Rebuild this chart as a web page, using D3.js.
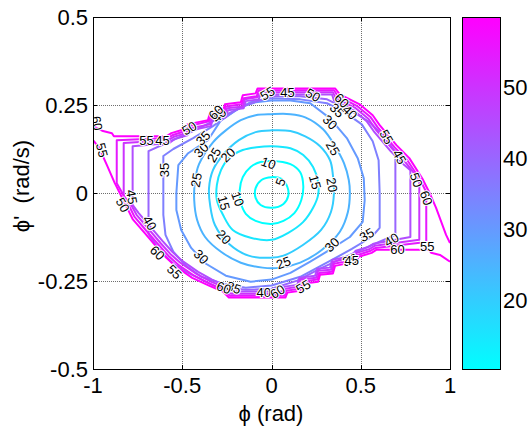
<!DOCTYPE html>
<html><head><meta charset="utf-8">
<script src="https://cdn.jsdelivr.net/npm/d3@7"></script>
<style>
body{margin:0;background:#fff;}
text{font-family:"Liberation Sans",Arial,sans-serif;}
</style>
</head><body>
<svg id="chart" width="529" height="428"></svg>
<script>
// ---------- data ----------
const xTicks = [-1, -0.5, 0, 0.5, 1];
const xTickLabels = ["-1", "-0.5", "0", "0.5", "1"];
const yTicks = [-0.5, -0.25, 0, 0.25, 0.5];
const yTickLabels = ["-0.5", "-0.25", "0", "0.25", "0.5"];
const cbTicks = [20, 30, 40, 50];
const cbTickLabels = ["20", "30", "40", "50"];
const cbRange = [10.3, 59.9];

const c5 = [[0,0.045],[0.056,0.040],[0.089,0.017],[0.094,-0.008],[0.067,-0.031],[0,-0.042],[-0.061,-0.034],[-0.089,-0.014],[-0.089,0.014],[-0.056,0.037]];
const c10 = [[0,0.091],[0.106,0.082],[0.161,0.059],[0.178,0.020],[0.167,-0.020],[0.128,-0.057],[0.067,-0.079],[0,-0.088],[-0.089,-0.079],[-0.144,-0.059],[-0.172,-0.028],[-0.178,0.008],[-0.161,0.045],[-0.117,0.074],[-0.061,0.088]];
const c15 = [[0,0.133],[0.106,0.127],[0.178,0.108],[0.233,0.074],[0.261,0.031],[0.261,-0.006],[0.233,-0.042],[0.178,-0.082],[0.094,-0.113],[0,-0.133],[-0.117,-0.127],[-0.217,-0.105],[-0.272,-0.062],[-0.306,-0.020],[-0.306,0.023],[-0.283,0.065],[-0.239,0.099],[-0.161,0.122],[-0.083,0.130]];
const c20 = [[0,0.178],[0.106,0.176],[0.189,0.161],[0.272,0.133],[0.328,0.093],[0.344,0.051],[0.350,0],[0.333,-0.054],[0.278,-0.105],[0.178,-0.147],[0.067,-0.178],[-0.006,-0.184],[-0.128,-0.178],[-0.239,-0.144],[-0.317,-0.091],[-0.344,-0.034],[-0.350,0.014],[-0.328,0.065],[-0.272,0.108],[-0.183,0.150],[-0.089,0.173]];
const c25 = [[0,0.224],[0.106,0.224],[0.189,0.215],[0.289,0.181],[0.356,0.133],[0.406,0.085],[0.433,0.037],[0.439,0],[0.428,-0.054],[0.383,-0.110],[0.283,-0.161],[0.161,-0.198],[0.050,-0.212],[-0.050,-0.212],[-0.172,-0.198],[-0.283,-0.167],[-0.372,-0.125],[-0.417,-0.076],[-0.433,-0.020],[-0.428,0.037],[-0.406,0.082],[-0.328,0.144],[-0.256,0.178],[-0.172,0.207],[-0.089,0.221]];
const c30 = [[0,0.263],[0.106,0.263],[0.217,0.255],[0.328,0.212],[0.422,0.156],[0.483,0.099],[0.517,0.042],[0.522,-0.020],[0.511,-0.082],[0.439,-0.125],[0.328,-0.161],[0.217,-0.195],[0.106,-0.227],[0,-0.246],[-0.117,-0.252],[-0.256,-0.235],[-0.367,-0.201],[-0.450,-0.156],[-0.506,-0.105],[-0.533,-0.048],[-0.533,0],[-0.522,0.079],[-0.467,0.113],[-0.356,0.150],[-0.283,0.207],[-0.172,0.244],[-0.089,0.258]];
const c35 = [[0,0.269],[0.161,0.266],[0.311,0.255],[0.411,0.229],[0.506,0.195],[0.567,0.147],[0.600,0.093],[0.606,0],[0.606,-0.099],[0.561,-0.125],[0.450,-0.159],[0.328,-0.193],[0.161,-0.238],[0,-0.263],[-0.144,-0.269],[-0.272,-0.258],[-0.394,-0.238],[-0.478,-0.207],[-0.550,-0.167],[-0.594,-0.119],[-0.606,-0.062],[-0.606,0],[-0.606,0.105],[-0.550,0.125],[-0.439,0.156],[-0.328,0.190],[-0.200,0.235],[-0.117,0.258]];
const c40 = [[0,0.275],[0.161,0.275],[0.311,0.266],[0.400,0.244],[0.478,0.224],[0.550,0.201],[0.633,0.159],[0.694,0.116],[0.694,-0.119],[0.589,-0.142],[0.439,-0.176],[0.272,-0.215],[0.144,-0.249],[0,-0.272],[-0.144,-0.275],[-0.311,-0.266],[-0.400,-0.244],[-0.478,-0.224],[-0.550,-0.201],[-0.633,-0.159],[-0.689,-0.116],[-0.689,0.119],[-0.589,0.142],[-0.439,0.176],[-0.272,0.218],[-0.144,0.249]];
const c45 = [[-0.778,0.133],[-0.572,0.142],[-0.544,0.153],[-0.472,0.164],[-0.450,0.178],[-0.339,0.190],[-0.328,0.212],[-0.256,0.215],[-0.244,0.235],[-0.156,0.241],[-0.144,0.261],[-0.072,0.266],[-0.061,0.280],[0.339,0.280],[0.350,0.263],[0.461,0.235],[0.533,0.204],[0.572,0.176],[0.667,0.119],[0.739,0.082],[0.778,0.065],[0.778,-0.125],[0.572,-0.144],[0.544,-0.153],[0.472,-0.164],[0.450,-0.178],[0.339,-0.190],[0.328,-0.212],[0.256,-0.215],[0.244,-0.235],[0.156,-0.241],[0.144,-0.261],[0.072,-0.266],[0.061,-0.280],[-0.222,-0.280],[-0.256,-0.263],[-0.333,-0.246],[-0.411,-0.224],[-0.500,-0.193],[-0.556,-0.167],[-0.611,-0.136],[-0.678,-0.096],[-0.744,-0.057],[-0.778,-0.034]];
const c50 = [[-0.828,0.142],[-0.578,0.150],[-0.550,0.159],[-0.478,0.170],[-0.456,0.184],[-0.344,0.195],[-0.333,0.218],[-0.261,0.221],[-0.250,0.241],[-0.161,0.246],[-0.150,0.266],[-0.078,0.272],[-0.067,0.286],[0.344,0.286],[0.361,0.269],[0.472,0.241],[0.544,0.210],[0.583,0.181],[0.678,0.125],[0.750,0.088],[0.828,0.037],[0.828,-0.133],[0.578,-0.150],[0.550,-0.159],[0.478,-0.170],[0.456,-0.184],[0.344,-0.195],[0.333,-0.218],[0.261,-0.221],[0.250,-0.241],[0.161,-0.246],[0.150,-0.266],[0.078,-0.272],[0.067,-0.286],[-0.228,-0.286],[-0.261,-0.269],[-0.339,-0.252],[-0.422,-0.229],[-0.511,-0.198],[-0.567,-0.173],[-0.622,-0.142],[-0.689,-0.102],[-0.756,-0.062],[-0.789,-0.031],[-0.828,-0.008]];
const c55 = [[-0.867,0.150],[-0.583,0.156],[-0.556,0.164],[-0.483,0.176],[-0.461,0.190],[-0.350,0.204],[-0.339,0.224],[-0.267,0.227],[-0.256,0.246],[-0.167,0.252],[-0.156,0.269],[-0.083,0.275],[-0.072,0.292],[0.350,0.292],[0.372,0.275],[0.483,0.246],[0.556,0.215],[0.594,0.187],[0.689,0.130],[0.761,0.093],[0.828,0.042],[0.867,0.003],[0.867,-0.139],[0.583,-0.156],[0.556,-0.164],[0.483,-0.176],[0.461,-0.190],[0.350,-0.201],[0.339,-0.224],[0.267,-0.227],[0.256,-0.246],[0.167,-0.252],[0.156,-0.272],[0.083,-0.278],[0.072,-0.292],[-0.233,-0.292],[-0.267,-0.275],[-0.344,-0.258],[-0.433,-0.235],[-0.522,-0.204],[-0.578,-0.178],[-0.633,-0.147],[-0.700,-0.108],[-0.767,-0.068],[-0.800,-0.034],[-0.839,0.003],[-0.867,0.028]];
const c60a = [[-1.000,0.190],[-0.944,0.176],[-0.894,0.170],[-0.883,0.161],[-0.589,0.161],[-0.561,0.170],[-0.489,0.181],[-0.472,0.195],[-0.356,0.207],[-0.344,0.229],[-0.272,0.232],[-0.261,0.252],[-0.172,0.258],[-0.161,0.278],[-0.089,0.283],[-0.078,0.297],[0.356,0.297],[0.383,0.280],[0.494,0.252],[0.567,0.221],[0.606,0.193],[0.700,0.136],[0.772,0.099],[0.844,0.042],[0.883,0.003],[0.922,-0.042],[0.978,-0.119],[1.000,-0.142]];
const c60b = [[1.000,-0.195],[0.944,-0.176],[0.894,-0.170],[0.883,-0.161],[0.589,-0.161],[0.561,-0.170],[0.489,-0.181],[0.472,-0.195],[0.356,-0.207],[0.344,-0.229],[0.272,-0.232],[0.261,-0.252],[0.172,-0.258],[0.161,-0.278],[0.089,-0.283],[0.078,-0.297],[-0.239,-0.297],[-0.272,-0.280],[-0.350,-0.263],[-0.444,-0.241],[-0.533,-0.210],[-0.589,-0.184],[-0.644,-0.153],[-0.711,-0.113],[-0.778,-0.074],[-0.811,-0.040],[-0.850,0],[-0.878,0.028],[-0.922,0.079],[-0.967,0.130],[-1.000,0.150]];

const contourLevels = [5, 10, 15, 20, 25, 30, 35, 40, 45, 50, 55, 60, 60];
const contourPaths  = [c5, c10, c15, c20, c25, c30, c35, c40, c45, c50, c55, c60a, c60b];
const contourClosed = [true, true, true, true, true, true, true, true, true, true, true, false, false];

const labelText = ["5","10","10","15","15","20","20","20","25","25","25","25","30","30","30","30","35","35","35","35","35","35","40","40","40","40","40","45","45","45","45","45","50","50","50","50","55","55","55","55","55","55","55","60","60","60","60","60","60","60","60"];
const labelX = [0.050,-0.017,-0.189,0.244,-0.267,-0.244,0.339,-0.267,-0.322,-0.422,0.344,0.067,-0.394,0.328,-0.394,0.339,-0.383,-0.600,0.367,0.533,-0.211,0.439,0.439,-0.294,-0.683,0.672,-0.044,0.089,-0.611,0.717,-0.783,0.450,0.233,-0.461,0.811,-0.833,-0.022,-0.700,0.644,-0.950,0.872,0.178,-0.544,0.394,-0.311,-0.978,0.867,0.706,0.033,-0.639,-0.267];
const labelY = [0.031,0.085,-0.017,0.031,-0.028,0.108,0.023,-0.125,0.108,0.037,0.127,-0.198,0.122,0.201,-0.181,-0.147,0.156,0.065,0.235,-0.119,-0.269,-0.190,0.229,0.221,-0.085,-0.133,-0.283,0.286,0.150,0.102,-0.011,-0.193,0.278,0.184,0.037,-0.034,0.283,0.150,0.159,0.122,-0.153,-0.266,-0.224,0.263,0.229,0.198,-0.014,-0.161,-0.280,-0.170,-0.269];
const labelAngle = [-70,20,70,75,75,-45,80,45,-60,-80,60,-20,-45,45,45,-45,-45,-90,45,-30,20,-20,45,-45,60,-30,0,0,0,60,80,0,30,-30,70,60,-30,0,60,75,0,-30,45,45,-45,80,70,0,-30,45,20];

// ---------- layout ----------
const svg = d3.select("#chart");
const plot = {left: 93, right: 450, top: 17, bottom: 369};
const cb = {left: 462, right: 500};
const fontSize = 22;

const x = d3.scaleLinear().domain([-1, 1]).range([plot.left, plot.right]);
const y = d3.scaleLinear().domain([-0.5, 0.5]).range([plot.bottom, plot.top]);
const cy = d3.scaleLinear().domain(cbRange).range([plot.bottom, plot.top]);
const coolColor = v => {
  const t = Math.max(0, Math.min(1, (v - cbRange[0]) / (cbRange[1] - cbRange[0])));
  return d3.rgb(Math.round(255 * t), Math.round(255 * (1 - t)), 255).toString();
};

svg.append("rect").attr("width", 529).attr("height", 428).attr("fill", "#fff");

const defs = svg.append("defs");
defs.append("clipPath").attr("id", "clip").append("rect")
  .attr("x", plot.left).attr("y", plot.top)
  .attr("width", plot.right - plot.left).attr("height", plot.bottom - plot.top);

// grid
const grid = svg.append("g").attr("stroke", "#6e6e6e").attr("stroke-width", 1).attr("stroke-dasharray", "1,1");
xTicks.slice(1, -1).forEach(t => grid.append("line")
  .attr("x1", Math.round(x(t)) + 0.5).attr("x2", Math.round(x(t)) + 0.5)
  .attr("y1", plot.top).attr("y2", plot.bottom));
yTicks.slice(1, -1).forEach(t => grid.append("line")
  .attr("y1", Math.round(y(t)) + 0.5).attr("y2", Math.round(y(t)) + 0.5)
  .attr("x1", plot.left).attr("x2", plot.right));

// contours
const cg = svg.append("g").attr("clip-path", "url(#clip)");
contourPaths.forEach((pts, i) => {
  const lv = contourLevels[i];
  const closed = contourClosed[i];
  const curve = closed ? (lv <= 25 ? d3.curveCatmullRomClosed.alpha(0.5) : d3.curveLinearClosed) : d3.curveLinear;
  const line = d3.line().x(d => x(d[0])).y(d => y(d[1])).curve(curve);
  cg.append("path").attr("d", line(pts))
    .attr("fill", "none").attr("stroke", coolColor(lv))
    .attr("stroke-width", 2).attr("stroke-linejoin", "round");
});

// contour labels
const lg = svg.append("g").attr("clip-path", "url(#clip)");
labelText.forEach((t, i) => {
  const px = x(labelX[i]), py = y(labelY[i]);
  lg.append("text").text(t)
    .attr("transform", `translate(${px},${py}) rotate(${labelAngle[i]})`)
    .attr("text-anchor", "middle").attr("dy", "0.35em")
    .attr("font-size", 13).attr("fill", "#000")
    .attr("stroke", "#fff").attr("stroke-width", 2).attr("paint-order", "stroke");
});

// axes box
svg.append("rect").attr("x", plot.left + 0.5).attr("y", plot.top + 0.5)
  .attr("width", plot.right - plot.left).attr("height", plot.bottom - plot.top)
  .attr("fill", "none").attr("stroke", "#000").attr("stroke-width", 1);

// ticks
const tk = svg.append("g").attr("stroke", "#000").attr("stroke-width", 1);
xTicks.forEach(t => {
  const px = Math.round(x(t)) + 0.5;
  tk.append("line").attr("x1", px).attr("x2", px).attr("y1", plot.bottom).attr("y2", plot.bottom - 4);
  tk.append("line").attr("x1", px).attr("x2", px).attr("y1", plot.top).attr("y2", plot.top + 4);
});
yTicks.forEach(t => {
  const py = Math.round(y(t)) + 0.5;
  tk.append("line").attr("y1", py).attr("y2", py).attr("x1", plot.left).attr("x2", plot.left + 4);
  tk.append("line").attr("y1", py).attr("y2", py).attr("x1", plot.right).attr("x2", plot.right - 4);
});

// tick labels
xTicks.forEach((t, i) => svg.append("text").text(xTickLabels[i])
  .attr("x", x(t)).attr("y", 393).attr("text-anchor", "middle").attr("font-size", fontSize));
yTicks.forEach((t, i) => svg.append("text").text(yTickLabels[i])
  .attr("x", 88).attr("y", y(t)).attr("dy", "0.36em").attr("text-anchor", "end").attr("font-size", fontSize));

// axis labels
svg.append("text").text("\u03D5 (rad)").attr("x", 271).attr("y", 421)
  .attr("text-anchor", "middle").attr("font-size", fontSize);
svg.append("text").text("\u03D5'\u00A0 (rad/s)")
  .attr("transform", "translate(29,186) rotate(-90)")
  .attr("text-anchor", "middle").attr("font-size", fontSize);

// colorbar
const grad = defs.append("linearGradient").attr("id", "cool")
  .attr("x1", 0).attr("y1", 1).attr("x2", 0).attr("y2", 0);
d3.range(0, 1.0001, 0.1).forEach(t => grad.append("stop")
  .attr("offset", t).attr("stop-color", coolColor(cbRange[0] + t * (cbRange[1] - cbRange[0]))));
svg.append("rect").attr("x", cb.left + 0.5).attr("y", plot.top + 0.5)
  .attr("width", cb.right - cb.left).attr("height", plot.bottom - plot.top)
  .attr("fill", "url(#cool)").attr("stroke", "#000").attr("stroke-width", 1);
cbTicks.forEach((t, i) => {
  const py = Math.round(cy(t)) + 0.5;
  tk.append("line").attr("y1", py).attr("y2", py).attr("x1", cb.left).attr("x2", cb.left + 4);
  tk.append("line").attr("y1", py).attr("y2", py).attr("x1", cb.right + 1).attr("x2", cb.right - 3);
  svg.append("text").text(cbTickLabels[i]).attr("x", cb.right + 3).attr("y", cy(t))
    .attr("dy", "0.36em").attr("font-size", fontSize);
});
</script>
</body></html>
